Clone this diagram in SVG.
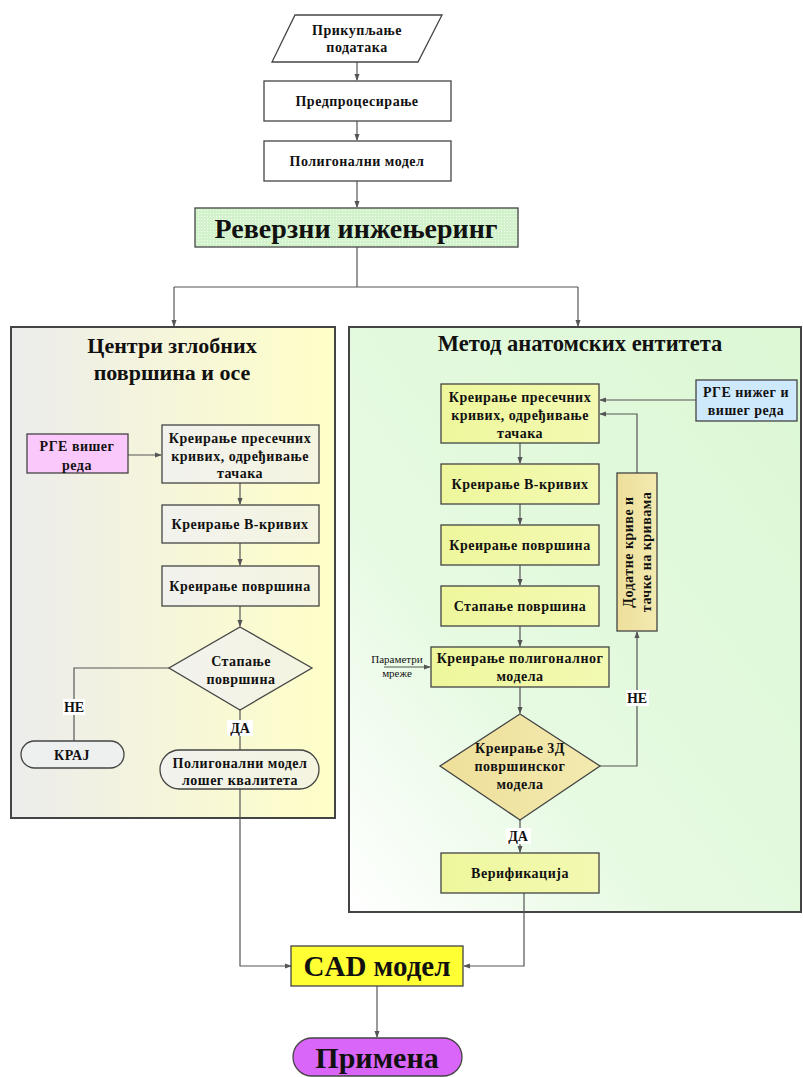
<svg xmlns="http://www.w3.org/2000/svg" width="803" height="1077" viewBox="0 0 803 1077">
<defs>
<style>
text{font-family:"Liberation Serif","Times New Roman",serif;font-weight:bold;fill:#111;text-anchor:middle;dominant-baseline:central}
.t13{font-size:14px;letter-spacing:0.5px}
.box{stroke:#444;stroke-width:1.3}
.ln{fill:none;stroke:#555;stroke-width:1.2}
.lbl{font-size:14px}
</style>
<marker id="ah" viewBox="0 0 8 8" refX="7" refY="4" markerWidth="7" markerHeight="7" orient="auto" markerUnits="userSpaceOnUse">
<path d="M0,1 L8,4 L0,7 Z" fill="#555"/>
</marker>
<pattern id="dots" width="3" height="3" patternUnits="userSpaceOnUse">
<rect width="3" height="3" fill="#d2f2cc"/>
<rect width="1" height="1" fill="#f4fff2"/>
</pattern>
<linearGradient id="gLeft" x1="0" y1="0" x2="1" y2="0">
<stop offset="0" stop-color="#ececec"/>
<stop offset="1" stop-color="#ffffc8"/>
</linearGradient>
<linearGradient id="gLbox" x1="0" y1="0" x2="1" y2="0">
<stop offset="0" stop-color="#f2f2ee"/>
<stop offset="1" stop-color="#f4f4e0"/>
</linearGradient>
<linearGradient id="gRight" x1="0" y1="1" x2="1" y2="0">
<stop offset="0" stop-color="#ffffff"/>
<stop offset="0.35" stop-color="#e6fae2"/>
<stop offset="1" stop-color="#dcf8d4"/>
</linearGradient>
<linearGradient id="gRbox" x1="0" y1="0" x2="1" y2="0">
<stop offset="0" stop-color="#eef79c"/>
<stop offset="1" stop-color="#f3f9b2"/>
</linearGradient>
<linearGradient id="gKhaki" x1="0" y1="0" x2="1" y2="0">
<stop offset="0" stop-color="#eedf9a"/>
<stop offset="1" stop-color="#f3eab0"/>
</linearGradient>
</defs>

<g id="panel-left">
<rect x="11" y="327" width="324" height="491" fill="url(#gLeft)" stroke="#444" stroke-width="2"/>
<text x="172" y="345" style="font-size:22px">Центри зглобних</text>
<text x="172" y="372" style="font-size:22px">површина и осе</text>
</g>
<g id="panel-right">
<rect x="349" y="327" width="452" height="585" fill="url(#gRight)" stroke="#444" stroke-width="2"/>
<text x="580" y="343" style="font-size:22.5px">Метод анатомских ентитета</text>
</g>

<g id="connectors">
<path class="ln" d="M357,62 V80" marker-end="url(#ah)"/>
<path class="ln" d="M357,121 V140" marker-end="url(#ah)"/>
<path class="ln" d="M357,181 V207" marker-end="url(#ah)"/>
<path class="ln" d="M357,247 V287 M174,287 H578"/>
<path class="ln" d="M174,287 V326" marker-end="url(#ah)"/>
<path class="ln" d="M578,287 V326" marker-end="url(#ah)"/>
<path class="ln" d="M128,455 H161" marker-end="url(#ah)"/>
<path class="ln" d="M240,483 V504" marker-end="url(#ah)"/>
<path class="ln" d="M240,543 V565" marker-end="url(#ah)"/>
<path class="ln" d="M240,606 V626" marker-end="url(#ah)"/>
<path class="ln" d="M169,668 H74 V741"/>
<path class="ln" d="M240,710 V750"/>
<path class="ln" d="M240,789 V966 H291" marker-end="url(#ah)"/>
<path class="ln" d="M696,400 H600" marker-end="url(#ah)"/>
<path class="ln" d="M637,473 V414 H600" marker-end="url(#ah)"/>
<path class="ln" d="M520,443 V463" marker-end="url(#ah)"/>
<path class="ln" d="M520,504 V524" marker-end="url(#ah)"/>
<path class="ln" d="M520,565 V585" marker-end="url(#ah)"/>
<path class="ln" d="M520,626 V646" marker-end="url(#ah)"/>
<path class="ln" d="M384,667 H430" marker-end="url(#ah)"/>
<path class="ln" d="M520,687 V713" marker-end="url(#ah)"/>
<path class="ln" d="M600,766 H637 V632" marker-end="url(#ah)"/>
<path class="ln" d="M520,820 V852" marker-end="url(#ah)"/>
<path class="ln" d="M524,893 V966 H464" marker-end="url(#ah)"/>
<path class="ln" d="M377,986 V1037" marker-end="url(#ah)"/>
<rect x="63" y="699" width="22" height="16" fill="#fff"/>
<text class="lbl" x="74" y="707">НЕ</text>
<rect x="227" y="720" width="26" height="16" fill="#fff"/>
<text class="lbl" x="240" y="728">ДА</text>
<rect x="626" y="690" width="23" height="16" fill="#fff"/>
<text class="lbl" x="637" y="698">НЕ</text>
<rect x="506" y="828" width="25" height="16" fill="#fff"/>
<text class="lbl" x="518" y="836">ДА</text>
<text x="397" y="659" style="font-size:11px;font-weight:normal">Параметри</text>
<text x="397" y="673" style="font-size:11px;font-weight:normal">мреже</text>
</g>

<g id="n-prikupljanje">
<polygon class="box" points="295,15 442,15 418,62 272,62" fill="#fff"/>
<text class="t13" x="357" y="30">Прикупљање</text>
<text class="t13" x="357" y="47">података</text>
</g>
<g id="n-predprocesiranje">
<rect class="box" x="264" y="81" width="187" height="40" fill="#fff"/>
<text class="t13" x="357" y="101">Предпроцесирање</text>
</g>
<g id="n-poligonalni">
<rect class="box" x="264" y="141" width="187" height="40" fill="#fff"/>
<text class="t13" x="357" y="161">Полигонални модел</text>
</g>
<g id="n-reverzni">
<rect class="box" x="195" y="208" width="323" height="39" fill="url(#dots)"/>
<text x="356" y="228" style="font-size:28px">Реверзни инжењеринг</text>
</g>

<g id="n-rge-visheg">
<rect class="box" x="27" y="434" width="101" height="39" fill="#fbc8fb"/>
<text class="t13" x="77" y="446">РГЕ вишег</text>
<text class="t13" x="77" y="465">реда</text>
</g>
<g id="n-l-presecnih">
<rect class="box" x="162" y="425" width="157" height="58" fill="url(#gLbox)"/>
<text class="t13" x="240" y="438">Креирање пресечних</text>
<text class="t13" x="240" y="456">кривих, одређивање</text>
<text class="t13" x="240" y="473">тачака</text>
</g>
<g id="n-l-bkrivih">
<rect class="box" x="162" y="505" width="157" height="38" fill="url(#gLbox)"/>
<text class="t13" x="240" y="524">Креирање B-кривих</text>
</g>
<g id="n-l-povrsina">
<rect class="box" x="162" y="566" width="157" height="40" fill="url(#gLbox)"/>
<text class="t13" x="240" y="586">Креирање површина</text>
</g>
<g id="n-l-stapanje">
<polygon class="box" points="240,627 312,668 240,710 169,668" fill="url(#gLbox)"/>
<text class="t13" x="241" y="661">Стапање</text>
<text class="t13" x="241" y="679">површина</text>
</g>
<g id="n-kraj">
<rect class="box" x="21" y="741" width="103" height="27" rx="13.5" fill="#eef0f0"/>
<text class="t13" x="72" y="755">КРАЈ</text>
</g>
<g id="n-losheg">
<rect class="box" x="160" y="750" width="159" height="39" rx="19.5" fill="url(#gLbox)"/>
<text class="t13" x="240" y="763">Полигонални модел</text>
<text class="t13" x="240" y="780">лошег квалитета</text>
</g>

<g id="n-r-presecnih">
<rect class="box" x="441" y="384" width="158" height="59" fill="url(#gRbox)"/>
<text class="t13" x="520" y="397">Креирање пресечних</text>
<text class="t13" x="520" y="415">кривих, одређивање</text>
<text class="t13" x="520" y="433">тачака</text>
</g>
<g id="n-rge-nizheg">
<rect class="box" x="696" y="380" width="101" height="41" fill="#cfe9fc"/>
<text class="t13" x="746" y="392">РГЕ нижег и</text>
<text class="t13" x="746" y="410">вишег реда</text>
</g>
<g id="n-r-bkrivih">
<rect class="box" x="441" y="464" width="158" height="40" fill="url(#gRbox)"/>
<text class="t13" x="520" y="484">Креирање B-кривих</text>
</g>
<g id="n-r-povrsina">
<rect class="box" x="441" y="525" width="158" height="40" fill="url(#gRbox)"/>
<text class="t13" x="520" y="545">Креирање површина</text>
</g>
<g id="n-r-stapanje">
<rect class="box" x="441" y="586" width="158" height="40" fill="url(#gRbox)"/>
<text class="t13" x="520" y="606">Стапање површина</text>
</g>
<g id="n-dodatne">
<rect class="box" x="617" y="473" width="40" height="158" fill="url(#gKhaki)"/>
<text class="t13" transform="translate(628,552) rotate(-90)" x="0" y="0">Додатне криве и</text>
<text class="t13" transform="translate(646,552) rotate(-90)" x="0" y="0">тачке на кривама</text>
</g>
<g id="n-poligonalnog">
<rect class="box" x="431" y="647" width="178" height="40" fill="url(#gRbox)"/>
<text class="t13" x="520" y="658">Креирање полигоналног</text>
<text class="t13" x="520" y="676">модела</text>
</g>
<g id="n-3d">
<polygon class="box" points="520,714 600,766 520,820 440,766" fill="url(#gKhaki)"/>
<text class="t13" x="520" y="748">Креирање 3Д</text>
<text class="t13" x="520" y="766">површинског</text>
<text class="t13" x="520" y="784">модела</text>
</g>
<g id="n-verifikacija">
<rect class="box" x="441" y="853" width="158" height="40" fill="url(#gRbox)"/>
<text class="t13" x="520" y="873">Верификација</text>
</g>

<g id="n-cad">
<rect class="box" x="291" y="946" width="172" height="40" fill="#ffff33"/>
<text x="377" y="966" style="font-size:29px">CAD модел</text>
</g>
<g id="n-primena">
<rect class="box" x="293" y="1038" width="169" height="38" rx="19" fill="#d966f9"/>
<text x="377" y="1057" style="font-size:30px">Примена</text>
</g>
</svg>
